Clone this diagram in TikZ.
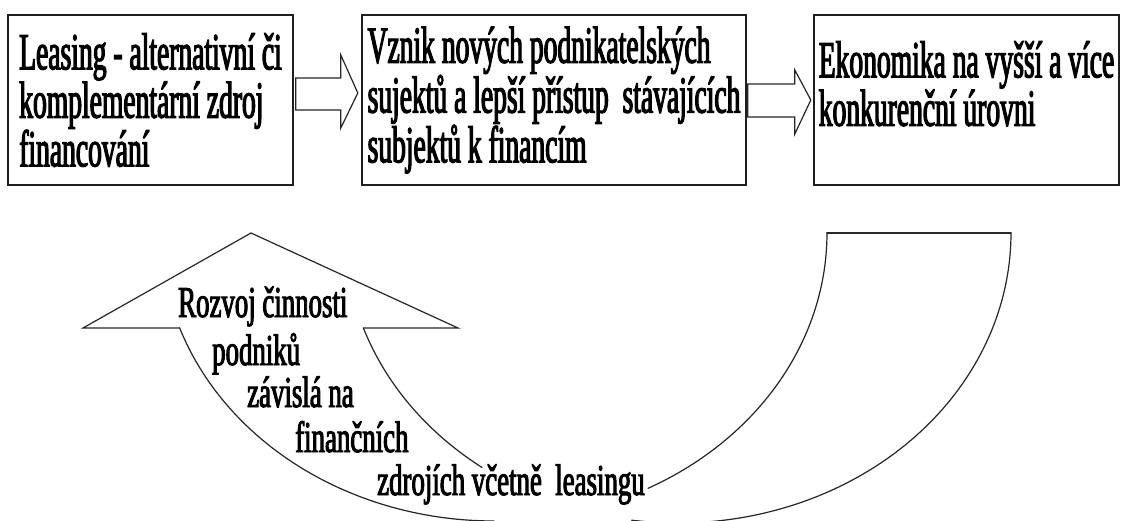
\documentclass[tikz,border=0pt]{standalone}
\usepackage{fontspec}
\setmainfont{Liberation Serif}
\newfontfamily\boxfont[FakeStretch=0.53,FakeBold=2.2]{Liberation Serif}
\newfontfamily\curvefont[FakeStretch=0.61,FakeBold=2.2]{Liberation Serif}
\usetikzlibrary{calc}
\begin{document}
\begin{tikzpicture}[x=1pt,y=-1pt,
  stage/.style={draw=black!88, line width=1.6pt, fill=white, align=left,
    inner xsep=4pt, inner ysep=0pt, minimum height=170pt,
    font=\boxfont\fontsize{52}{45}\selectfont},
  blockarrow/.style={draw=black!85, line width=1.2pt, fill=white, line join=miter},
  band/.style={draw=black!85, line width=1.2pt, line cap=round},
  arrowtext/.style={anchor=base west, inner sep=0pt, font=\curvefont\fontsize{44}{44}\selectfont}]
\useasboundingbox (0,0) rectangle (1125,520);
\fill[white] (0,0) rectangle (1125,520);

% top boxes
\node[stage, minimum width=285pt] (b1) at (150.5,100)
  {Leasing - alternativní či\\komplementární zdroj\\financování};
\node[stage, minimum width=384pt] (b2) at (554,100)
  {Vznik nových podnikatelských\\sujektů a lepší přístup\ \ stávajících\\subjektů k financím};
\node[stage, minimum width=305pt, text height=52pt] (b3) at (966.5,100)
  {Ekonomika na vyšší a více\\konkurenční úrovni};

% block arrows between boxes
\draw[blockarrow] ($(b1.east)+(2,-22)$) -- ++(45,0) -- ++(0,-23)
  -- ($(b1.east)+(64,-7)$) -- ($(b1.east)+(47,28)$) -- ++(0,-18) -- ++(-45,0) -- cycle;
\draw[blockarrow] ($(b2.east)+(1,-16)$) -- ++(47,0) -- ++(0,-14)
  -- ($(b2.east)+(64,0)$) -- ($(b2.east)+(48,34)$) -- ++(0,-17) -- ++(-47,0) -- cycle;

% curved U-turn arrow
\coordinate (tailL) at (827,233);
\coordinate (tailR) at (1011,233);
\coordinate (tip) at (251,233);
\coordinate (barbL) at (83,328);
\coordinate (barbR) at (458,328);
\coordinate (shaftL) at (179.7,328);
\coordinate (shaftR) at (363.4,328);
\draw[band, line width=1.6pt] (tailL) -- (tailR);
\draw[band, line join=miter] (shaftL) -- (barbL) -- (tip) -- (barbR) -- (shaftR);
% outer ellipse (P): centre (678,233)
\draw[band] plot[domain=0:98, samples=80] ({678+333*cos(\x)},{233+290*sin(\x)});
\draw[band] plot[domain=126.06:160.88, samples=40] ({678+333*cos(\x)},{233+290*sin(\x)});
% inner ellipse (Q): centre (494,233)
\draw[band] plot[domain=0:62.45, samples=60] ({494+333*cos(\x)},{233+288*sin(\x)});
\draw[band] plot[domain=90:160.74, samples=60] ({494+333*cos(\x)},{233+288*sin(\x)});

% text in the curved arrow
\node[arrowtext] (t1) at (178,317) {Rozvoj činnosti};
\node[arrowtext] (t2) at (212,365) {podniků};
\node[arrowtext] (t3) at (247,407) {závislá na};
\node[arrowtext] (t4) at (295,452) {finančních};
\node[arrowtext] (t5) at (377,495) {zdrojích včetně\ \ leasingu};
\end{tikzpicture}
\end{document}
